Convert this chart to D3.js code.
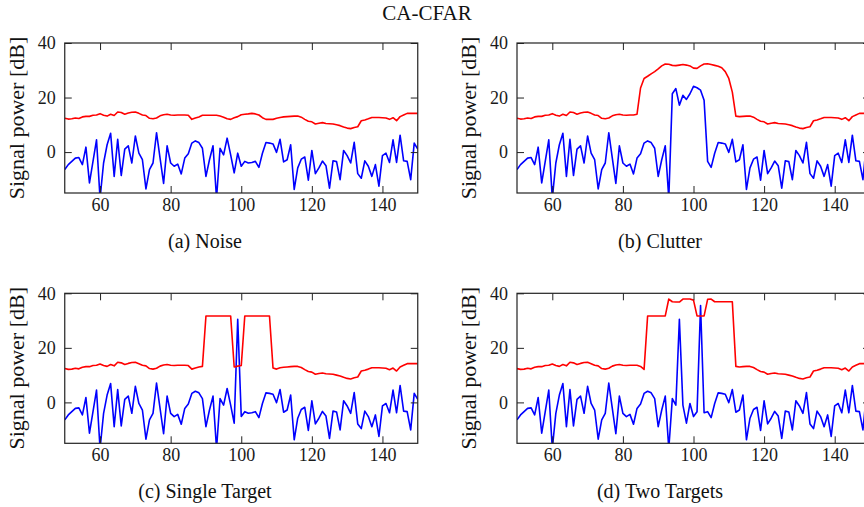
<!DOCTYPE html>
<html>
<head>
<meta charset="UTF-8">
<title>CA-CFAR</title>
<style>
  body { margin: 0; background: #fff; }
  svg { display: block; font-family: "Liberation Serif", "DejaVu Serif", serif; }
</style>
</head>
<body>
<svg></svg>
<script src="https://d3js.org/d3.v7.min.js"></script>
<script>

// range bins shown on the x axis
let bins = d3.range(50, 151);

// noise floor (dB), bins 50..150
let noise = [
  -6.4, -4.6, -3.4, -2.2, -2.0, -4.6, 1.8, -11.3, -3.4, 4.5,
  -17, -4.0, 2.7, 6.9, -8.9, 4.7, -8.6, 1.1, 2.3, -4.0,
  5.9, -0.4, -2.8, -13.5, -6.4, -4.0, 7.1, -2.2, -11.5, 2.3,
  -4.0, -5.2, -4.4, -8.0, -2.2, -0.6, 3.3, 4.1, 3.5, 1.4,
  -8.9, -2.8, 2.3, -17, 1.4, -1.0, 5.1, -1.0, -7.6, -0.4,
  -5.2, -3.4, -4.0, -3.8, -3.4, -5.6, -0.4, 3.5, 3.3, 3.0,
  -0.1, 4.7, -3.6, -2.8, 2.7, -13.7, -5.8, -2.6, -1.8, -10.3,
  0.6, -7.9, -5.8, -3.3, -5.0, -13.2, -3.2, -3.5, -10.1, 0.6,
  -1.3, -4.0, 3.6, -7.9, -9.6, -3.2, -5.2, -8.9, -4.6, -12.5,
  -1.3, -0.4, -3.8, 4.5, -3.8, 6.2, -3.2, -3.4, -10.1, 3.3,
  1.1
];

// CA-CFAR threshold on pure noise (dB), bins 50..150
let threshNoise = [
  12.4, 12.1, 12.2, 12.5, 12.3, 12.9, 13.1, 13.1, 13.5, 13.6,
  14.1, 13.5, 13.2, 13.9, 13.4, 14.7, 14.5, 13.9, 14.3, 14.6,
  14.7, 14.2, 13.6, 13.4, 12.4, 12.2, 12.5, 13.3, 13.7, 13.9,
  13.6, 13.5, 13.6, 13.6, 13.6, 13.5, 12.0, 12.5, 12.9, 13.5,
  13.5, 13.5, 13.5, 13.5, 13.2, 12.8, 12.2, 12.0, 12.6, 13.0,
  13.7, 13.9, 14.0, 14.2, 14.0, 13.6, 12.6, 12.0, 12.0, 12.0,
  12.4, 12.7, 12.9, 13.0, 13.1, 13.2, 13.2, 12.8, 12.0, 11.3,
  11.1, 10.3, 10.6, 10.8, 10.5, 10.4, 10.3, 10.0, 9.7, 9.2,
  8.8, 8.6, 9.0, 9.3, 11.5, 11.8, 12.2, 12.7, 12.7, 12.7,
  12.6, 12.5, 12.0, 12.6, 11.5, 13.0, 13.6, 14.2, 14.2, 14.2,
  14.2
];

// (b) clutter patch
let clutterBins = [94, 95, 96, 97, 98, 99, 100, 101, 102, 103];
let clutterVals = [21.4, 23.3, 17.2, 20.8, 19.3, 21.4, 24.1, 23.6, 22.7, 19.0];
let threshClutterBins = [84, 85, 86, 87, 88, 89, 90, 91, 92, 93, 94, 95, 96, 97, 98,
  99, 100, 101, 102, 103, 104, 105, 106, 107, 108, 109, 110, 111, 112, 113];
let threshClutterVals = [13.9, 23.5, 27.0, 27.8, 28.7, 29.5, 30.5, 31.6, 32.3, 32.2, 31.8, 31.7, 31.9, 32.1, 31.9,
  31.6, 30.8, 30.7, 31.6, 32.3, 32.4, 32.1, 31.8, 31.5, 30.9, 29.5, 27.0, 22.0, 13.2, 13.0];

// (c) single target
let singleBins = [99];
let singleVals = [30.5];
let threshSingleBins = [86, 87, 88, 89, 90, 91, 92, 93, 94, 95, 96, 97, 98, 99, 100,
  101, 102, 103, 104, 105, 106, 107, 108, 109, 110];
let threshSingleVals = [12.2, 12.6, 13.0, 13.2, 31.7, 31.7, 31.7, 31.7, 31.7, 31.7, 31.7, 31.7, 13.0, 13.3, 13.5,
  31.7, 31.7, 31.7, 31.7, 31.7, 31.7, 31.7, 31.7, 12.6, 12.2];

// (d) two targets
let twoBins = [96, 102];
let twoVals = [30.5, 35.5];
let threshTwoBins = [84, 85, 86, 87, 88, 89, 90, 91, 92, 93, 94, 95, 96, 97, 98,
  99, 100, 101, 102, 103, 104, 105, 106, 107, 108, 109, 110, 111, 112, 113];
let threshTwoVals = [13.6, 13.2, 12.1, 31.7, 31.7, 31.7, 31.7, 31.7, 31.7, 37.9, 36.9, 36.8, 36.8, 37.9, 37.9,
  37.9, 37.5, 31.7, 31.7, 31.7, 37.8, 37.9, 36.9, 36.9, 36.9, 36.9, 36.9, 36.9, 13.2, 13.0];

let xTicks = [60, 80, 100, 120, 140];
let yTicks = [0, 20, 40];

// replace some bins of a base series
function patch(base, pBins, pVals) {
  let out = base.slice();
  pBins.forEach((b, i) => { out[bins.indexOf(b)] = pVals[i]; });
  return out;
}

let panels = [
  { caption: "(a) Noise", x0: 64.75, y0: 43, capX: 205,
    signal: noise, thresh: threshNoise },
  { caption: "(b) Clutter", x0: 517, y0: 43, capX: 660,
    signal: patch(noise, clutterBins, clutterVals),
    thresh: patch(threshNoise, threshClutterBins, threshClutterVals) },
  { caption: "(c) Single Target", x0: 64.75, y0: 293.3, capX: 205,
    signal: patch(noise, singleBins, singleVals),
    thresh: patch(threshNoise, threshSingleBins, threshSingleVals) },
  { caption: "(d) Two Targets", x0: 517, y0: 293.3, capX: 660,
    signal: patch(noise, twoBins, twoVals),
    thresh: patch(threshNoise, threshTwoBins, threshTwoVals) }
];

let width = 864, height = 507;
let pw = 353, ph = 150;

let svg = d3.select("svg")
    .attr("width", width)
    .attr("height", height);

svg.append("text")
    .attr("x", 427)
    .attr("y", 19.5)
    .attr("text-anchor", "middle")
    .style("font-size", "21px")
    .attr("fill", "#111")
    .text("CA-CFAR");

panels.forEach((p, i) => {
  let x = d3.scaleLinear().domain([50, 150]).range([p.x0, p.x0 + pw]);
  let y = d3.scaleLinear().domain([-15, 40]).range([p.y0 + ph, p.y0]);

  let g = svg.append("g");

  g.append("clipPath")
      .attr("id", "clip" + i)
      .append("rect")
      .attr("x", p.x0).attr("y", p.y0)
      .attr("width", pw).attr("height", ph);

  let line = d3.line()
      .x((d, k) => x(bins[k]))
      .y(d => y(d));

  g.append("path")
      .datum(p.signal)
      .attr("clip-path", "url(#clip" + i + ")")
      .attr("fill", "none")
      .attr("stroke", "#0000ff")
      .attr("stroke-width", 1.6)
      .attr("stroke-linejoin", "round")
      .attr("d", line);

  g.append("path")
      .datum(p.thresh)
      .attr("clip-path", "url(#clip" + i + ")")
      .attr("fill", "none")
      .attr("stroke", "#ff0000")
      .attr("stroke-width", 1.6)
      .attr("stroke-linejoin", "round")
      .attr("d", line);

  // axes with inward ticks on all four sides
  g.append("g")
      .attr("transform", "translate(0," + (p.y0 + ph) + ")")
      .call(d3.axisBottom(x).tickValues(xTicks).tickSize(-7).tickSizeOuter(0).tickPadding(5));
  g.append("g")
      .attr("transform", "translate(0," + p.y0 + ")")
      .call(d3.axisTop(x).tickValues(xTicks).tickSize(-7).tickSizeOuter(0).tickFormat(""));
  g.append("g")
      .attr("transform", "translate(" + p.x0 + ",0)")
      .call(d3.axisLeft(y).tickValues(yTicks).tickSize(-7).tickSizeOuter(0).tickPadding(9));
  g.append("g")
      .attr("transform", "translate(" + (p.x0 + pw) + ",0)")
      .call(d3.axisRight(y).tickValues(yTicks).tickSize(-7).tickSizeOuter(0).tickFormat(""));

  g.selectAll(".domain").remove();
  g.selectAll(".tick line").attr("stroke", "#222").attr("stroke-width", 1);
  g.selectAll(".tick text")
      .style("font-family", "Liberation Serif")
      .style("font-size", "18px")
      .attr("fill", "#1a1a1a");

  g.append("rect")
      .attr("x", p.x0).attr("y", p.y0)
      .attr("width", pw).attr("height", ph)
      .attr("fill", "none")
      .attr("stroke", "#222")
      .attr("stroke-width", 1.2);

  g.append("text")
      .attr("transform", "translate(" + (p.x0 - 41) + "," + (p.y0 + ph / 2) + ") rotate(-90)")
      .attr("text-anchor", "middle")
      .style("font-size", "22px")
      .attr("fill", "#111")
      .text("Signal power [dB]");

  g.append("text")
      .attr("x", p.capX)
      .attr("y", p.y0 + ph + 55)
      .attr("text-anchor", "middle")
      .style("font-size", "20px")
      .attr("fill", "#111")
      .text(p.caption);
});

</script>
</body>
</html>
